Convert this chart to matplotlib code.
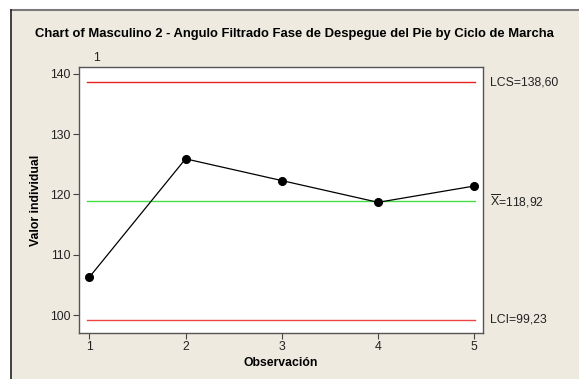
import matplotlib
matplotlib.use("Agg")
import matplotlib.pyplot as plt
from matplotlib.patches import Rectangle
from matplotlib.lines import Line2D

plt.rcParams['font.family'] = ['Liberation Sans', 'DejaVu Sans']
plt.rcParams['mathtext.fontset'] = 'custom'
plt.rcParams['mathtext.rm'] = 'Liberation Sans'

# Individual values per observation
observations = [1, 2, 3, 4, 5]
values = [106.3, 125.9, 122.3, 118.7, 121.4]

# Control limits
ucl = 138.60
center = 118.92
lcl = 99.23

title = "Chart of Masculino 2 - Angulo Filtrado Fase de Despegue del Pie by Ciclo de Marcha"
xlabel = "Observación"
ylabel = "Valor individual"
yticks = [100, 110, 120, 130, 140]

W, H = 579, 379
fig = plt.figure(figsize=(W / 100, H / 100), dpi=100)
fig.patch.set_facecolor('white')

# Beige panel with framed top-left edges
bg = '#EEEAE0'
fig.add_artist(Rectangle((11 / W, 0), 1, 1 - 10 / H, transform=fig.transFigure,
                         facecolor=bg, edgecolor='none', zorder=0))
fig.add_artist(Line2D([11 / W, 1], [1 - 10 / H, 1 - 10 / H], transform=fig.transFigure,
                      color='#7a7a7a', lw=1.5))
fig.add_artist(Line2D([11 / W, 11 / W], [0, 1 - 10 / H], transform=fig.transFigure,
                      color='#222222', lw=1.2))

left, right, top, bottom = 79, 483, 67, 333
ax = fig.add_axes([left / W, 1 - bottom / H, (right - left) / W, (bottom - top) / H])
ax.set_facecolor('white')

ax.axhline(ucl, color='#e8201f', lw=1.0, xmin=0.02, xmax=0.98)
ax.axhline(center, color='#44dd44', lw=1.0, xmin=0.02, xmax=0.98)
ax.axhline(lcl, color='#ee4444', lw=1.0, xmin=0.02, xmax=0.98)

ax.plot(observations, values, color='black', lw=0.9, marker='o', markersize=5.5,
        markerfacecolor='black', zorder=3)

ax.set_xlim(0.893, 5.09)
ax.set_ylim(97.07, 141.1)
ax.set_xticks(observations)
ax.set_yticks(yticks)
ax.tick_params(direction='out', length=4, width=0.8, color='#444444',
               labelsize=8.8, labelcolor='#222222', pad=2)
for s in ax.spines.values():
    s.set_color('#555555')
    s.set_linewidth(1.0)

ax.set_xlabel(xlabel, fontsize=8.8, fontweight='bold', labelpad=3)
ax.set_ylabel(ylabel, fontsize=8.8, fontweight='bold', labelpad=6)

fig.text(294 / W, 1 - 34 / H, title, fontsize=9.4, fontweight='bold',
         ha='center', va='center')
fig.text(97 / W, 1 - 58 / H, "1", fontsize=8.8, ha='center', va='center', color='#222222')

lab_x = 490 / W
def ypix(v):
    return 1 - (top + (141.1 - v) / (141.1 - 97.07) * (bottom - top)) / H

fig.text(lab_x, ypix(ucl), "LCS=138,60", fontsize=8.8, va='center', color='#222222')
fig.text(lab_x, ypix(center), r"$\overline{\mathrm{X}}$" + "=118,92", fontsize=8.8,
         va='center', color='#222222')
fig.text(lab_x, ypix(lcl), "LCI=99,23", fontsize=8.8, va='center', color='#222222')

fig.savefig("out.png", dpi=100, facecolor=fig.get_facecolor())
